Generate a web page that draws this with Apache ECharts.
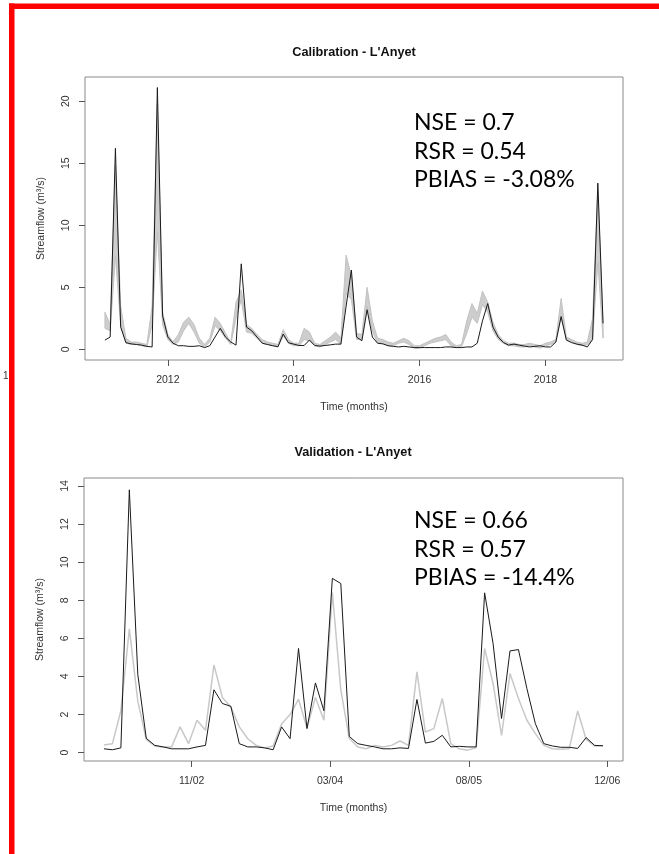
<!DOCTYPE html>
<html>
<head>
<meta charset="utf-8">
<script src="https://cdn.jsdelivr.net/npm/echarts@6/dist/echarts.min.js"></script>
<style>
html,body{margin:0;padding:0;background:#fff;}
#chart{width:659px;height:854px;}
</style>
</head>
<body>
<div id="chart"></div>
<script>
// ---- Calibration (monthly, Jan 2011 - Dec 2018) ----
const calObs = [
  0.75, 1.0, 16.2, 1.8, 0.55, 0.45, 0.4, 0.35, 0.25, 0.2,
  21.1, 2.7, 1.0, 0.5, 0.3, 0.3, 0.25, 0.25, 0.3, 0.15,
  0.3, 1.0, 1.7, 1.0, 0.6, 0.35, 6.9, 1.8, 1.5, 1.0,
  0.5, 0.4, 0.3, 0.22, 1.24, 0.54, 0.43, 0.32, 0.32, 0.76,
  0.32, 0.27, 0.32, 0.37, 0.43, 0.43, 3.5, 6.4, 1.0, 0.7,
  3.2, 1.0, 0.5, 0.45, 0.3, 0.25, 0.2, 0.25, 0.2, 0.15,
  0.15, 0.15, 0.15, 0.15, 0.15, 0.2, 0.2, 0.15, 0.15, 0.2,
  0.2, 0.5, 2.3, 3.7, 1.8, 1.0, 0.55, 0.35, 0.43, 0.35,
  0.27, 0.2, 0.25, 0.3, 0.2, 0.2, 0.6, 2.65, 0.75, 0.55,
  0.43, 0.35, 0.2, 0.8, 13.4, 2.1
];
const calSimLow = [
  1.7, 1.5, 7.5, 2.0, 0.5, 0.4, 0.4, 0.3, 0.2, 2.0,
  9.5, 2.0, 0.8, 0.4, 0.6, 1.5, 2.1, 1.4, 0.5, 0.2,
  0.6, 1.9, 1.5, 0.9, 0.4, 2.5, 4.0, 1.4, 1.3, 0.9,
  0.5, 0.4, 0.3, 0.2, 1.1, 0.5, 0.3, 0.3, 0.8, 0.7,
  0.3, 0.2, 0.4, 0.6, 0.8, 0.4, 4.5, 4.0, 0.8, 0.8,
  3.5, 1.5, 0.5, 0.5, 0.3, 0.3, 0.5, 0.6, 0.4, 0.1,
  0.1, 0.3, 0.5, 0.6, 0.7, 0.8, 0.3, 0.15, 0.2, 1.3,
  2.6, 2.1, 3.6, 3.0, 1.5, 0.8, 0.5, 0.3, 0.3, 0.2,
  0.2, 0.3, 0.2, 0.1, 0.3, 0.4, 0.6, 2.6, 0.8, 0.6,
  0.4, 0.3, 0.4, 0.8, 7.0, 0.9
];
const calSimHigh = [
  3.0, 2.0, 14.8, 3.5, 0.9, 0.6, 0.6, 0.5, 0.4, 3.5,
  19.8, 3.0, 1.2, 0.6, 1.2, 2.2, 2.6, 2.0, 0.9, 0.4,
  0.9, 2.6, 2.1, 1.3, 0.6, 3.8, 4.8, 2.0, 1.7, 1.2,
  0.8, 0.6, 0.5, 0.4, 1.6, 0.8, 0.5, 0.5, 1.7, 1.4,
  0.5, 0.4, 0.7, 1.0, 1.4, 0.9, 7.6, 5.9, 1.3, 1.2,
  5.0, 2.3, 0.9, 0.8, 0.6, 0.5, 0.7, 0.9, 0.7, 0.3,
  0.3, 0.5, 0.7, 0.9, 1.0, 1.2, 0.6, 0.3, 0.4, 2.3,
  3.7, 2.9, 4.7, 3.8, 2.2, 1.2, 0.7, 0.5, 0.5, 0.4,
  0.4, 0.5, 0.4, 0.3, 0.5, 0.6, 0.8, 4.1, 1.0, 0.8,
  0.6, 0.5, 0.6, 2.5, 12.8, 2.0
];
const calTickPos = [12, 36, 60, 84];
const calTickLabels = ['2012', '2014', '2016', '2018'];
const calYTicks = [0, 5, 10, 15, 20];

// ---- Validation ----
const valObs = [
  0.2, 0.15, 0.25, 13.8, 4.1, 0.75, 0.38, 0.3, 0.2, 0.2,
  0.2, 0.3, 0.38, 3.3, 2.58, 2.43, 0.47, 0.3, 0.3, 0.25,
  0.15, 1.35, 0.73, 5.47, 1.26, 3.66, 2.2, 9.15, 8.88, 0.85,
  0.47, 0.38, 0.3, 0.2, 0.2, 0.25, 0.22, 2.79, 0.5, 0.59,
  0.91, 0.3, 0.33, 0.3, 0.3, 8.39, 5.73, 1.79, 5.34, 5.41,
  3.36, 1.52, 0.47, 0.35, 0.28, 0.28, 0.22, 0.79, 0.38, 0.36
];
const valSim = [
  0.4, 0.47, 2.2, 6.5, 2.7, 0.7, 0.35, 0.3, 0.3, 1.35,
  0.47, 1.7, 1.17, 4.6, 2.9, 2.4, 1.35, 0.73, 0.38, 0.25,
  0.35, 1.5, 2.0, 2.8, 1.3, 2.9, 1.7, 8.4, 3.3, 0.75,
  0.3, 0.2, 0.38, 0.3, 0.38, 0.61, 0.38, 4.24, 1.08, 1.26,
  2.84, 0.47, 0.2, 0.13, 0.25, 5.47, 3.63, 0.91, 4.15, 2.84,
  1.7, 1.0, 0.38, 0.2, 0.18, 0.2, 2.19, 0.7, 0.35, 0.36
];
const valTickPos = [10.37, 26.73, 43.14, 59.5];
const valTickLabels = ['11/02', '03/04', '08/05', '12/06'];
const valYTicks = [0, 2, 4, 6, 8, 10, 12, 14];

const calStats = ['NSE = 0.7', 'RSR = 0.54', 'PBIAS = -3.08%'];
const valStats = ['NSE = 0.66', 'RSR = 0.57', 'PBIAS = -14.4%'];

const FONT = 'Liberation Sans, Arial, sans-serif';
const pairs = arr => arr.map((v, i) => [i, v]);

function xAxisCfg(gridIndex, tickPos, tickLabels, n) {
  const pad = 0.04 * (n - 1);
  return {
    type: 'value', gridIndex,
    min: -pad, max: (n - 1) + pad,
    axisLine: { show: false, onZero: false },
    splitLine: { show: false },
    axisTick: { show: true, length: 6, inside: false, customValues: tickPos,
      lineStyle: { color: '#555', width: 1 } },
    axisLabel: { show: true, customValues: tickPos, margin: 15,
      color: '#333', fontSize: 10.5, fontFamily: FONT,
      formatter: v => { const i = tickPos.findIndex(p => Math.abs(p - v) < 1e-6); return i >= 0 ? tickLabels[i] : ''; } },
    name: 'Time (months)', nameLocation: 'middle', nameGap: 42,
    nameTextStyle: { color: '#333', fontSize: 10.5, fontFamily: FONT }
  };
}
function yAxisCfg(gridIndex, ticks, min, max) {
  return {
    type: 'value', gridIndex, min, max,
    axisLine: { show: false, onZero: false },
    splitLine: { show: false },
    axisTick: { show: true, length: 6, customValues: ticks,
      lineStyle: { color: '#555', width: 1 } },
    axisLabel: { show: true, customValues: ticks, rotate: 90, margin: 13,
      color: '#333', fontSize: 10.5, fontFamily: FONT },
    name: 'Streamflow (m³/s)', nameLocation: 'middle', nameGap: 38,
    nameTextStyle: { color: '#333', fontSize: 10.5, fontFamily: FONT }
  };
}

// band polygon between simulated low and high, drawn through the axis scales
function bandRenderItem(params, api) {
  if (params.dataIndex !== 0) return null;
  const pts = [];
  for (let i = 0; i < calSimHigh.length; i++) pts.push(api.coord([i, calSimHigh[i]]));
  for (let i = calSimLow.length - 1; i >= 0; i--) pts.push(api.coord([i, calSimLow[i]]));
  return {
    type: 'polygon',
    shape: { points: pts },
    style: { fill: '#cdcdcd', stroke: '#c2c2c2', lineWidth: 1 },
    clipPath: { type: 'rect', shape: { x: params.coordSys.x, y: params.coordSys.y, width: params.coordSys.width, height: params.coordSys.height } }
  };
}

const chart = echarts.init(document.getElementById('chart'), null, { renderer: 'canvas' });
chart.setOption({
  backgroundColor: '#fff',
  animation: false,
  grid: [
    { left: 85, top: 77, width: 538, height: 283, show: true, borderColor: '#8a8a8a', borderWidth: 1, backgroundColor: 'transparent' },
    { left: 84, top: 478, width: 539, height: 283, show: true, borderColor: '#8a8a8a', borderWidth: 1, backgroundColor: 'transparent' }
  ],
  xAxis: [
    xAxisCfg(0, calTickPos, calTickLabels, calObs.length),
    xAxisCfg(1, valTickPos, valTickLabels, valObs.length)
  ],
  yAxis: [
    yAxisCfg(0, calYTicks, -0.85, 21.95),
    yAxisCfg(1, valYTicks, -0.44, 14.42)
  ],
  series: [
    { type: 'custom', xAxisIndex: 0, yAxisIndex: 0,
      data: calSimLow.map((v, i) => [i, v, calSimHigh[i]]),
      encode: { x: 0, y: [1, 2] },
      renderItem: bandRenderItem, z: 1 },
    { type: 'line', xAxisIndex: 0, yAxisIndex: 0, data: pairs(calObs),
      showSymbol: false, lineStyle: { color: '#1a1a1a', width: 1 }, z: 3 },
    { type: 'line', xAxisIndex: 1, yAxisIndex: 1, data: pairs(valSim),
      showSymbol: false, lineStyle: { color: '#c8c8c8', width: 1.5 }, z: 1 },
    { type: 'line', xAxisIndex: 1, yAxisIndex: 1, data: pairs(valObs),
      showSymbol: false, lineStyle: { color: '#1a1a1a', width: 1 }, z: 3 }
  ],
  graphic: [
    { type: 'rect', shape: { x: 9, y: 3.5, width: 650, height: 5.5 }, style: { fill: '#ff0000' }, z: 100 },
    { type: 'rect', shape: { x: 9, y: 3.5, width: 5.5, height: 851 }, style: { fill: '#ff0000' }, z: 100 },
    { type: 'text', x: 3, y: 376, z: 100, style: { text: '1', font: '10px ' + FONT, fill: '#333', textVerticalAlign: 'middle' } },
    { type: 'text', x: 354, y: 52, z: 100, style: { text: "Calibration - L'Anyet", font: 'bold 12.7px ' + FONT, fill: '#111', textAlign: 'center', textVerticalAlign: 'middle' } },
    { type: 'text', x: 353, y: 452, z: 100, style: { text: "Validation - L'Anyet", font: 'bold 12.7px ' + FONT, fill: '#111', textAlign: 'center', textVerticalAlign: 'middle' } },
    { type: 'text', x: 414, y: 108.5, z: 100, style: { text: calStats.join('\n'), font: '23px Lato, ' + FONT, lineHeight: 28.5, fill: '#000' } },
    { type: 'text', x: 414, y: 506.8, z: 100, style: { text: valStats.join('\n'), font: '23px Lato, ' + FONT, lineHeight: 28.5, fill: '#000' } }
  ]
});
</script>
</body>
</html>
